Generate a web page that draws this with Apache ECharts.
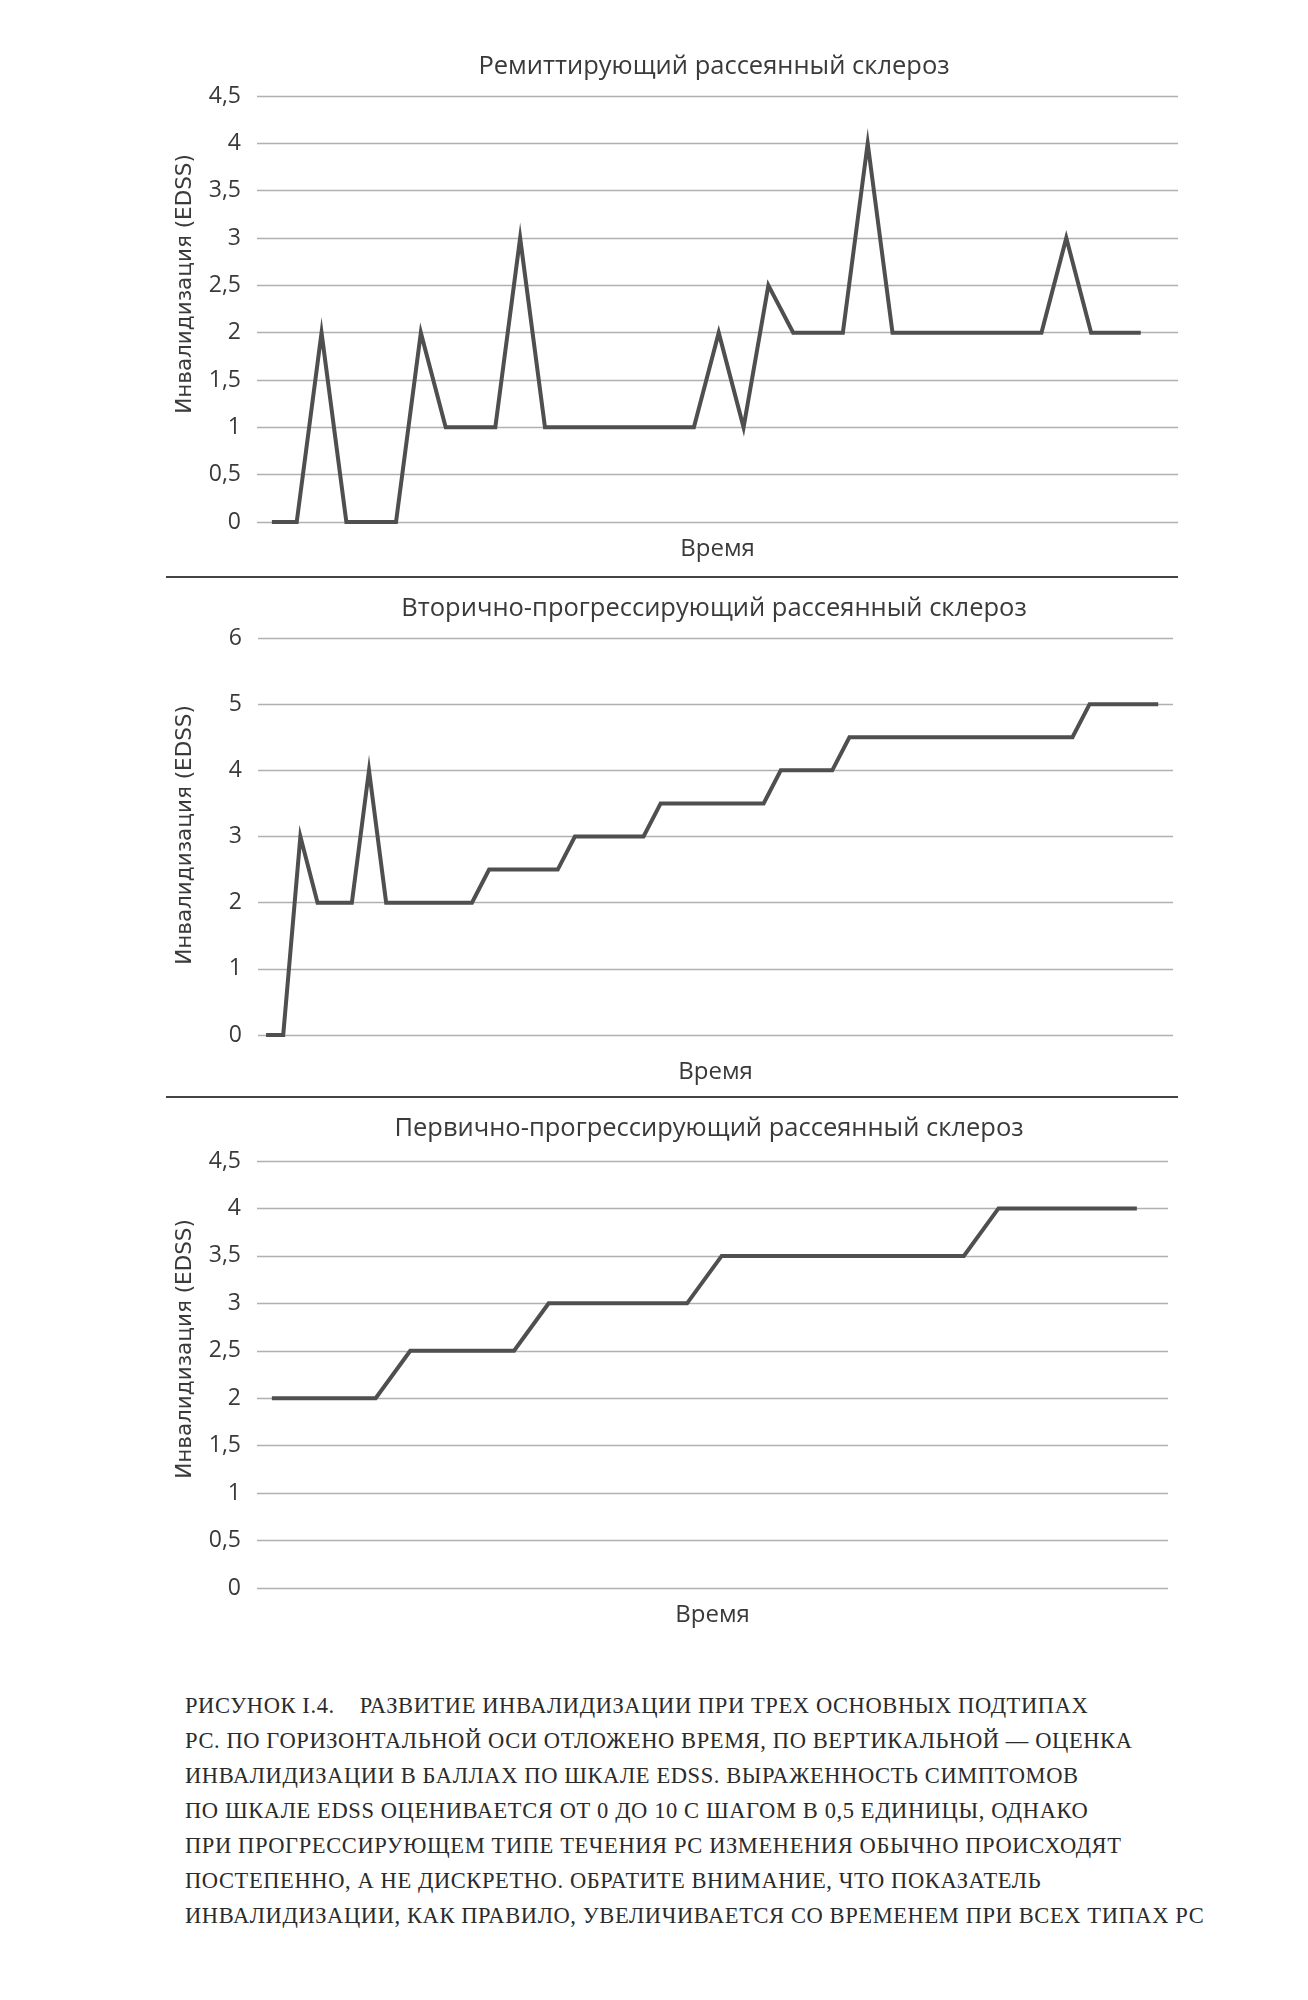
<!DOCTYPE html>
<html>
<head>
<meta charset="utf-8">
<script src="https://cdn.jsdelivr.net/npm/echarts@6/dist/echarts.min.js"></script>
<style>
  html, body { margin: 0; padding: 0; background: #ffffff; }
  #chart { position: absolute; left: 0; top: 0; width: 1308px; height: 1680px; }
  #caption { position: absolute; left: 185px; top: 1688px; width: 1120px;
    font-family: "Liberation Serif", "DejaVu Serif", serif; font-size: 22.5px; color: #2a2a2a;
    line-height: 35px; letter-spacing: 0.6px; white-space: pre; }
</style>
</head>
<body>
<div id="chart"></div>
<div id="caption"></div>
<script>
// ---- Data ----
const titles = [
  'Ремиттирующий рассеянный склероз',
  'Вторично-прогрессирующий рассеянный склероз',
  'Первично-прогрессирующий рассеянный склероз'
];
const yAxisTitle = 'Инвалидизация (EDSS)';
const xAxisTitle = 'Время';

// Remitting-relapsing MS (36 time points)
const rrValues = [0, 0, 2, 0, 0, 0, 2, 1, 1, 1, 3, 1, 1, 1, 1, 1, 1, 1, 2, 1,
                  2.5, 2, 2, 2, 4, 2, 2, 2, 2, 2, 2, 2, 3, 2, 2, 2];
// Secondary-progressive MS (53 time points)
const spValues = [0, 0, 3, 2, 2, 2, 4, 2, 2, 2, 2, 2, 2,
                  2.5, 2.5, 2.5, 2.5, 2.5,
                  3, 3, 3, 3, 3,
                  3.5, 3.5, 3.5, 3.5, 3.5, 3.5, 3.5,
                  4, 4, 4, 4,
                  4.5, 4.5, 4.5, 4.5, 4.5, 4.5, 4.5, 4.5, 4.5, 4.5, 4.5, 4.5, 4.5, 4.5,
                  5, 5, 5, 5, 5];
// Primary-progressive MS (26 time points)
const ppValues = [2, 2, 2, 2, 2.5, 2.5, 2.5, 2.5, 3, 3, 3, 3, 3,
                  3.5, 3.5, 3.5, 3.5, 3.5, 3.5, 3.5, 3.5, 4, 4, 4, 4, 4];

const yTicks1 = ['0', '0,5', '1', '1,5', '2', '2,5', '3', '3,5', '4', '4,5'];
const yTicks2 = ['0', '1', '2', '3', '4', '5', '6'];

const captionLines = [
  'РИСУНОК I.4.    РАЗВИТИЕ ИНВАЛИДИЗАЦИИ ПРИ ТРЕХ ОСНОВНЫХ ПОДТИПАХ',
  'РС. ПО ГОРИЗОНТАЛЬНОЙ ОСИ ОТЛОЖЕНО ВРЕМЯ, ПО ВЕРТИКАЛЬНОЙ — ОЦЕНКА',
  'ИНВАЛИДИЗАЦИИ В БАЛЛАХ ПО ШКАЛЕ EDSS. ВЫРАЖЕННОСТЬ СИМПТОМОВ',
  'ПО ШКАЛЕ EDSS ОЦЕНИВАЕТСЯ ОТ 0 ДО 10 С ШАГОМ В 0,5 ЕДИНИЦЫ, ОДНАКО',
  'ПРИ ПРОГРЕССИРУЮЩЕМ ТИПЕ ТЕЧЕНИЯ РС ИЗМЕНЕНИЯ ОБЫЧНО ПРОИСХОДЯТ',
  'ПОСТЕПЕННО, А НЕ ДИСКРЕТНО. ОБРАТИТЕ ВНИМАНИЕ, ЧТО ПОКАЗАТЕЛЬ',
  'ИНВАЛИДИЗАЦИИ, КАК ПРАВИЛО, УВЕЛИЧИВАЕТСЯ СО ВРЕМЕНЕМ ПРИ ВСЕХ ТИПАХ РС'
];

// ---- Build ----
const TEXT = '#3a3a3a';
const LINE = '#4f4f4f';
const GRIDC = '#b0b0b0';
const sansFont = '"Open Sans", "Noto Sans", sans-serif';

function pairs(arr) { return arr.map((v, i) => [i, v]); }

const grids = [
  { left: 257, width: 921, top: 96, height: 426 },
  { left: 258, width: 915, top: 638, height: 397 },
  { left: 257, width: 911, top: 1161, height: 427 }
];
const xRanges = [[-0.6, 36.5], [-0.47, 52.86], [-0.43, 25.9]];
const yConf = [
  { max: 4.5, interval: 0.5, ticks: yTicks1 },
  { max: 6, interval: 1, ticks: yTicks2 },
  { max: 4.5, interval: 0.5, ticks: yTicks1 }
];
const xNameGap = [15, 25, 15];
const yTitleCenters = [[185, 284], [185, 835], [185, 1349]];
const seriesData = [rrValues, spValues, ppValues];

const option = {
  backgroundColor: '#ffffff',
  animation: false,
  title: [
    { text: titles[0], left: 709, top: 49, textAlign: 'center' },
    { text: titles[1], left: 709, top: 591, textAlign: 'center' },
    { text: titles[2], left: 704, top: 1111, textAlign: 'center' }
  ].map(t => Object.assign(t, { textStyle: { fontFamily: sansFont, fontSize: 25.5, fontWeight: 'normal', color: TEXT } })),
  grid: grids,
  xAxis: grids.map((g, i) => ({
    type: 'value', gridIndex: i, min: xRanges[i][0], max: xRanges[i][1],
    axisLine: { show: false }, axisTick: { show: false }, axisLabel: { show: false },
    splitLine: { show: false },
    name: xAxisTitle, nameLocation: 'middle', nameGap: xNameGap[i],
    nameTextStyle: { fontFamily: sansFont, fontSize: 24, color: TEXT, verticalAlign: 'top' }
  })),
  yAxis: grids.map((g, i) => ({
    type: 'value', gridIndex: i, min: 0, max: yConf[i].max, interval: yConf[i].interval,
    axisLine: { show: false }, axisTick: { show: false },
    axisLabel: { margin: 16, fontFamily: sansFont, fontSize: 23, color: TEXT,
      formatter: (v) => yConf[i].ticks[Math.round(v / yConf[i].interval)] },
    splitLine: { show: true, lineStyle: { color: GRIDC, width: 1.3 } }
  })),
  series: seriesData.map((d, i) => ({
    type: 'line', xAxisIndex: i, yAxisIndex: i, data: pairs(d),
    symbol: 'none', lineStyle: { color: LINE, width: 4, join: 'miter' }
  })),
  graphic: [
    { type: 'line', shape: { x1: 166, y1: 577, x2: 1178, y2: 577 }, style: { stroke: '#444', lineWidth: 2 } },
    { type: 'line', shape: { x1: 166, y1: 1097, x2: 1178, y2: 1097 }, style: { stroke: '#444', lineWidth: 2 } }
  ].concat(yTitleCenters.map(c => ({
    type: 'text', x: c[0], y: c[1], rotation: Math.PI / 2,
    style: { text: yAxisTitle, align: 'center', verticalAlign: 'middle',
      fontFamily: '"DejaVu Sans", sans-serif', fontSize: 21.5, fill: TEXT }
  })))
};

const chart = echarts.init(document.getElementById('chart'));
chart.setOption(option);
document.getElementById('caption').textContent = captionLines.join('\n');
</script>
</body>
</html>
